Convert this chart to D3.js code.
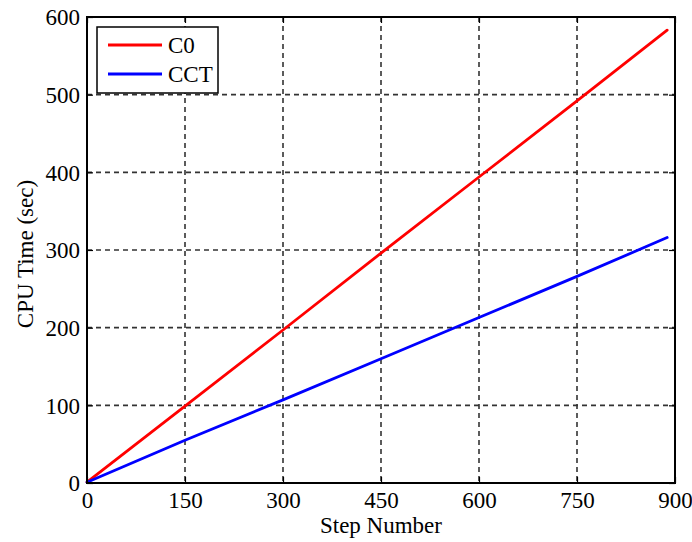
<!DOCTYPE html>
<html><head><meta charset="utf-8">
<script src="https://cdn.jsdelivr.net/npm/d3@7"></script>
<style>body{margin:0;background:#fff}svg{display:block}text{font-family:"Liberation Serif","Times New Roman",serif;fill:#000}</style>
</head><body><svg id="c" width="692" height="542"></svg>
<script>
const steps = [0, 150, 300, 450, 600, 750, 888];
const c0Values = [1, 99, 197, 296, 394, 492, 583];
const cctValues = [1, 55, 107, 160, 213, 266, 316];
const xTicks = [0, 150, 300, 450, 600, 750, 900];
const yTicks = [0, 100, 200, 300, 400, 500, 600];
const seriesNames = ["C0", "CCT"];
const seriesColors = ["#ff0000", "#0000ff"];

const svg = d3.select("#c");
const L = 87, R = 675, T = 17, B = 483;
const x = d3.scaleLinear().domain([0, 900]).range([L, R]);
const y = d3.scaleLinear().domain([0, 600]).range([B, T]);

// grid
const g = svg.append("g");
g.selectAll(".vg").data(xTicks.slice(1, -1)).enter().append("line")
  .attr("x1", d => x(d)).attr("x2", d => x(d)).attr("y1", T).attr("y2", B)
  .attr("stroke", "#333").attr("stroke-width", 1.6).attr("stroke-dasharray", "5,4");
g.selectAll(".hg").data(yTicks.slice(1, -1)).enter().append("line")
  .attr("y1", d => y(d)).attr("y2", d => y(d)).attr("x1", L).attr("x2", R)
  .attr("stroke", "#333").attr("stroke-width", 1.6).attr("stroke-dasharray", "5,4");

// series
const series = [c0Values, cctValues];
const line = d3.line().x((d, i) => x(steps[i])).y(d => y(d));
series.forEach((vals, k) => {
  svg.append("path").datum(vals).attr("d", line).attr("fill", "none")
    .attr("stroke", seriesColors[k]).attr("stroke-width", 2.8).attr("stroke-linecap", "round");
});

// axes
const fs = 23;
const ax = svg.append("g").attr("transform", `translate(0,${B})`)
  .call(d3.axisBottom(x).tickValues(xTicks).tickSize(-6));
const ax2 = svg.append("g").attr("transform", `translate(0,${T})`)
  .call(d3.axisTop(x).tickValues(xTicks).tickSize(-6).tickFormat(""));
const ay = svg.append("g").attr("transform", `translate(${L},0)`)
  .call(d3.axisLeft(y).tickValues(yTicks).tickSize(-6).tickPadding(7));
const ay2 = svg.append("g").attr("transform", `translate(${R},0)`)
  .call(d3.axisRight(y).tickValues(yTicks).tickSize(-6).tickFormat(""));
[ax, ax2, ay, ay2].forEach(a => {
  a.attr("font-family", null).attr("font-size", null);
  a.select(".domain").remove();
  a.selectAll("line").attr("stroke", "#000").attr("stroke-width", 1.2);
  a.selectAll("text").attr("font-size", fs).attr("fill", "#000");
});
ax.selectAll("text").attr("y", 25).attr("dy", 0);
ay.selectAll("text").attr("dy", "0.34em");

svg.append("rect").attr("x", L).attr("y", T).attr("width", R - L).attr("height", B - T)
  .attr("fill", "none").attr("stroke", "#000").attr("stroke-width", 2);

// labels
svg.append("text").attr("x", x(450)).attr("y", 533).attr("text-anchor", "middle")
  .attr("font-size", fs).text("Step Number");
svg.append("text").attr("transform", `translate(33,${(T + B) / 2 + 4}) rotate(-90)`)
  .attr("text-anchor", "middle").attr("font-size", fs).text("CPU Time (sec)");

// legend
const lg = svg.append("g");
lg.append("rect").attr("x", 97).attr("y", 27).attr("width", 121).attr("height", 66)
  .attr("fill", "#fff").attr("stroke", "#000").attr("stroke-width", 1.5);
seriesNames.forEach((n, i) => {
  const yy = 45 + i * 29;
  lg.append("line").attr("x1", 108).attr("x2", 162).attr("y1", yy).attr("y2", yy)
    .attr("stroke", seriesColors[i]).attr("stroke-width", 2.8);
  lg.append("text").attr("x", 168).attr("y", yy + 8)
    .attr("font-size", fs).text(n);
});
</script></body></html>
